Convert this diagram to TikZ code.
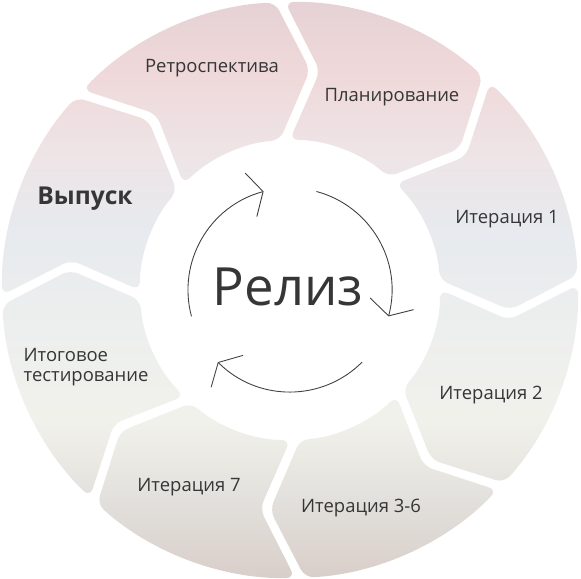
\documentclass[tikz,border=0pt]{standalone}
\usepackage{fontspec}
\setmainfont{Open Sans}
\usetikzlibrary{arrows.meta}
\definecolor{ringA}{HTML}{E5D2D4}
\definecolor{ringB}{HTML}{EFD8D9}
\definecolor{ringC}{HTML}{EEE4E6}
\definecolor{ringD}{HTML}{E7EAEE}
\definecolor{ringE}{HTML}{EDEFEE}
\definecolor{ringF}{HTML}{F1F1EB}
\definecolor{ringG}{HTML}{E2E0DC}
\definecolor{ringH}{HTML}{D9CEC9}
\definecolor{labelgray}{HTML}{363636}
\definecolor{arrowgray}{HTML}{404040}
\pgfdeclareverticalshading{ringshade}{100bp}{color(0bp)=(ringH); color(25bp)=(ringH);
  color(31.8bp)=(ringG); color(38.7bp)=(ringF); color(46.5bp)=(ringE); color(55bp)=(ringD);
  color(62bp)=(ringC); color(69bp)=(ringB); color(75bp)=(ringA); color(100bp)=(ringA)}
\tikzset{
    lbl/.style={text=labelgray, font=\fontsize{10.5}{11.5}\selectfont, align=center},
    cyc/.style={draw=arrowgray, line width=0.5pt, -{Straight Barb[length=2.5mm, width=9mm]}}
}

\begin{document}
\begin{tikzpicture}

    \fill[white] (-5.8,-5.78) rectangle (5.82,5.8);
    \useasboundingbox (-5.8,-5.78) rectangle (5.82,5.8);
    \shade[shading=ringshade, rounded corners=5pt]
      \foreach \b in {92,47,...,-223} {
        ({\b-1}:5.76) arc[start angle={\b-1}, end angle={\b-44}, radius=5.76]
        -- ({\b-52.2}:4.42) -- ({\b-43.1}:3.0)
        arc[start angle={\b-43.1}, end angle={\b-1.9}, radius=3.0]
        -- ({\b-9.8}:4.42) -- cycle
      };

    \node[lbl] (retro) at (-1.56,4.44) {Ретроспектива};
    \node[lbl] (plan) at (2.04,3.86) {Планирование};
    \node[lbl] (it1) at (4.34,1.42) {Итерация 1};
    \node[lbl] (it2) at (4.02,-2.10) {Итерация 2};
    \node[lbl] (it36) at (1.42,-4.36) {Итерация 3-6};
    \node[lbl] (it7) at (-2.02,-3.94) {Итерация 7};
    \node[lbl, align=left] (final) at (-4.08,-1.54) {Итоговое\\тестирование};
    \node[lbl, font=\fontsize{14}{16}\bfseries] (release) at (-4.10,1.82) {Выпуск};

    \node[text=labelgray, font=\fontsize{30}{34}\selectfont] (rel) at (-0.04,0.06) {Релиз};
    \coordinate (c1) at (195:2.04);
    \coordinate (c2) at (75:2.04);
    \coordinate (c3) at (-45:2.04);
    \draw[cyc] (c1) arc[start angle=195, end angle=105, radius=2.04];
    \draw[cyc] (c2) arc[start angle=75, end angle=-15, radius=2.04];
    \draw[cyc] (c3) arc[start angle=-45, end angle=-135, radius=2.04];
\end{tikzpicture}
\end{document}
